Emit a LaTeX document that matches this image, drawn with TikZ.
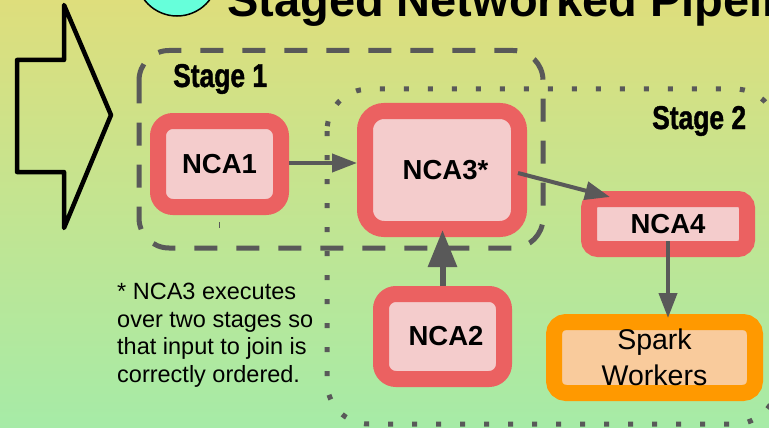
\documentclass[tikz,border=0pt]{standalone}
\usepackage{fontspec}
\setmainfont{Liberation Sans}
\newfontfamily\stagefont[FakeStretch=0.8,FakeBold=1.2]{Liberation Sans Bold}
\usetikzlibrary{arrows.meta,calc}
\definecolor{bgtop}{HTML}{DEDE7C}
\definecolor{bgbot}{HTML}{A6EBA7}
\definecolor{ncared}{HTML}{EB6161}
\definecolor{ncapink}{HTML}{F4CCCC}
\definecolor{sparkor}{HTML}{FF9900}
\definecolor{sparkin}{HTML}{F9CB9C}
\definecolor{wire}{HTML}{595959}
\definecolor{badge}{HTML}{66FFDA}
\begin{document}
\begin{tikzpicture}[x=1pt,y=-1pt,
  ncabox/.style={draw=ncared, fill=ncapink, line width=16pt, inner sep=0pt,
    font=\fontsize{27.5}{30}\selectfont\bfseries},
  sparkbox/.style={draw=sparkor, fill=sparkin, line width=16pt, inner sep=0pt,
    align=center, font=\fontsize{28.5}{36}\selectfont},
  stagelabel/.style={anchor=base west, inner sep=0pt, font=\stagefont\fontsize{33}{36}\selectfont},
  stageone/.style={draw=wire, line width=5pt, dash pattern=on 23pt off 19pt, rounded corners=30pt},
  stagetwo/.style={draw=wire, line width=5pt, dash pattern=on 5pt off 19pt, rounded corners=42pt},
  link/.style={draw=wire, line width=4pt, -{Triangle[length=25pt,width=18pt]}},
  biglink/.style={draw=wire, line width=6pt, -{Triangle[length=37pt,width=28pt]}}
]
\useasboundingbox (0,0) rectangle (769,428);
\clip (0,0) rectangle (769,428);

% background
\shade[top color=bgtop, bottom color=bgbot] (0,0) rectangle (769,428);

% title with badge
\draw[fill=badge, line width=1.5pt] (177,-25) circle[radius=41];
\node[anchor=base west, inner sep=0pt, font=\fontsize{47}{50}\selectfont\bfseries] (title) at (227,17) {Staged Networked Pipeline};

% big outline arrow on the left
\draw[line width=4.5pt, line join=round] (64,5) -- (64,60) -- (17,60) -- (17,172) -- (64,172) -- (64,228) -- (111,115) -- cycle;

% stage outlines
\draw[stageone] (139,50.5) rectangle (543,248);
\draw[stagetwo] (327,89) rectangle (777,424);

\node[stagelabel] (s1) at (173,87) {Stage 1};
\node[stagelabel] (s2) at (652,129) {Stage 2};

% operators
\node[ncabox, rounded corners=15pt, minimum width=123pt, minimum height=86pt] (n1) at (219.5,164) {NCA1};
\node[ncabox, rounded corners=19pt, minimum width=154pt, minimum height=118pt] (n3) at (442,170) {\hspace*{7pt}NCA3*};
\node[ncabox, rounded corners=9pt, minimum width=158pt, minimum height=50pt] (n4) at (668,224) {NCA4};
\node[ncabox, rounded corners=15pt, minimum width=123pt, minimum height=85pt] (n2) at (442.5,336.5) {\hspace*{7pt}NCA2};
\node[sparkbox, rounded corners=12pt, minimum width=201pt, minimum height=71pt] (sp) at (654.5,357.5) {Spark\\Workers};

\draw[line width=0.8pt, wire] (219,222) -- (219,228);

% connections
\draw[link] ($(n1.east)+(0,-1)$) -- ($(n1.east -| n3.west)+(0,-1)$);
\draw[link] ($(n3.east)+(-9,3)$) -- ($(n4.north west)+(29,6)$);
\draw[biglink, shorten >=-7pt] (n2.north) -- (n3.south -| n2.north);
\draw[link, shorten <=-16pt, shorten >=-4pt] (n4.south) -- (sp.north -| n4.south);

% footnote
\node[anchor=north west, align=left, inner sep=0pt, font=\fontsize{23.5}{27.5}\selectfont] (note) at (117,283) {* NCA3 executes\\over two stages so\\that input to join is\\correctly ordered.};
\end{tikzpicture}
\end{document}
